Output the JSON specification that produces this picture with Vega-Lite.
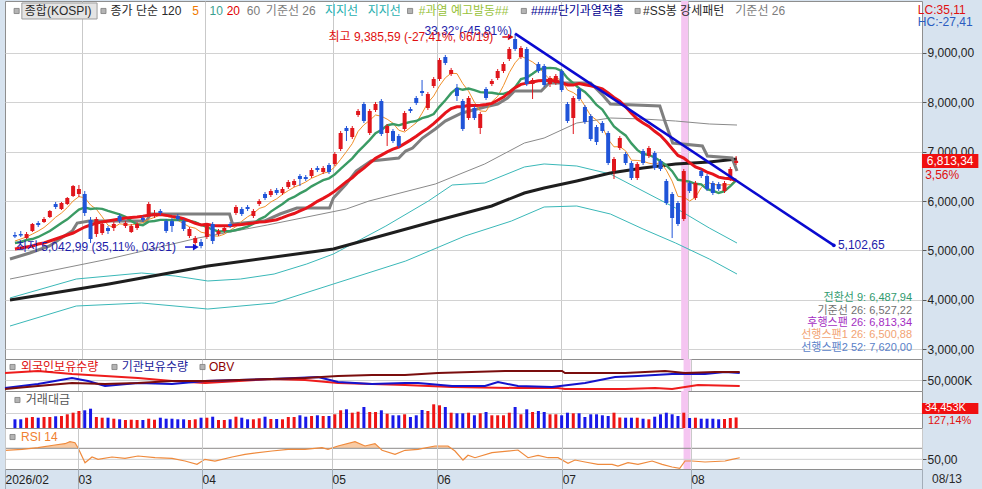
{
"$schema":"https://vega.github.io/schema/vega-lite/v6.json",
"background":"#d7e3ef",
"padding":{"left":0,"top":0,"right":5,"bottom":0},
"spacing":0,
"bounds":"flush",
"config":{"font":"Liberation Sans, Noto Sans CJK KR","view":{"stroke":"#8e8e8e","fill":"white"}},
"resolve":{"scale":{"x":"independent","y":"independent","color":"independent"}},
"datasets":{
"cd":[
{"i":0,"o":5312,"h":5373,"l":5251,"c":5282,"v":28450,"m5":5191,"m10":5150,"m20":5029},
{"i":1,"o":5332,"h":5393,"l":5272,"c":5302,"v":28450,"m5":5231,"m10":5171,"m20":5049},
{"i":2,"o":5251,"h":5373,"l":5231,"c":5332,"v":33680,"m5":5272,"m10":5211,"m20":5069},
{"i":3,"o":5393,"h":5555,"l":5373,"c":5535,"v":35970,"m5":5332,"m10":5231,"m20":5090},
{"i":4,"o":5555,"h":5595,"l":5474,"c":5514,"v":33680,"m5":5393,"m10":5272,"m20":5130},
{"i":5,"o":5575,"h":5676,"l":5555,"c":5636,"v":35970,"m5":5464,"m10":5332,"m20":5150},
{"i":6,"o":5676,"h":5818,"l":5656,"c":5798,"v":35970,"m5":5563,"m10":5393,"m20":5191},
{"i":7,"o":5939,"h":5980,"l":5838,"c":5879,"v":38260,"m5":5672,"m10":5474,"m20":5231},
{"i":8,"o":5838,"h":5980,"l":5818,"c":5960,"v":39240,"m5":5757,"m10":5555,"m20":5272},
{"i":9,"o":5939,"h":6081,"l":5919,"c":6061,"v":44800,"m5":5867,"m10":5630,"m20":5312},
{"i":10,"o":6101,"h":6324,"l":6081,"c":6303,"v":50030,"m5":6000,"m10":5731,"m20":5353},
{"i":11,"o":6142,"h":6324,"l":6081,"c":6243,"v":55590,"m5":6089,"m10":5826,"m20":5413},
{"i":12,"o":6142,"h":6202,"l":5697,"c":5757,"v":57880,"m5":6065,"m10":5869,"m20":5474},
{"i":13,"o":5616,"h":5676,"l":5150,"c":5231,"v":63110,"m5":5919,"m10":5838,"m20":5514},
{"i":14,"o":5332,"h":5676,"l":5272,"c":5636,"v":35970,"m5":5834,"m10":5850,"m20":5555},
{"i":15,"o":5353,"h":5575,"l":5312,"c":5535,"v":33680,"m5":5680,"m10":5840,"m20":5575},
{"i":16,"o":5454,"h":5494,"l":5332,"c":5393,"v":33680,"m5":5510,"m10":5800,"m20":5595},
{"i":17,"o":5454,"h":5575,"l":5393,"c":5535,"v":30410,"m5":5466,"m10":5765,"m20":5616},
{"i":18,"o":5697,"h":5737,"l":5555,"c":5595,"v":28450,"m5":5539,"m10":5729,"m20":5636},
{"i":19,"o":5494,"h":5595,"l":5454,"c":5555,"v":26160,"m5":5523,"m10":5678,"m20":5654},
{"i":20,"o":5373,"h":5535,"l":5353,"c":5494,"v":27140,"m5":5515,"m10":5597,"m20":5664},
{"i":21,"o":5454,"h":5575,"l":5413,"c":5535,"v":26160,"m5":5543,"m10":5527,"m20":5676},
{"i":22,"o":5656,"h":5697,"l":5575,"c":5616,"v":26160,"m5":5559,"m10":5512,"m20":5691},
{"i":23,"o":5737,"h":5980,"l":5717,"c":5939,"v":30410,"m5":5628,"m10":5583,"m20":5711},
{"i":24,"o":5697,"h":5818,"l":5656,"c":5757,"v":27140,"m5":5668,"m10":5595,"m20":5723},
{"i":25,"o":5798,"h":5838,"l":5717,"c":5757,"v":33680,"m5":5721,"m10":5618,"m20":5729},
{"i":26,"o":5595,"h":5636,"l":5353,"c":5393,"v":30410,"m5":5692,"m10":5618,"m20":5709},
{"i":27,"o":5595,"h":5656,"l":5373,"c":5494,"v":30410,"m5":5668,"m10":5614,"m20":5689},
{"i":28,"o":5697,"h":5737,"l":5595,"c":5636,"v":28450,"m5":5608,"m10":5618,"m20":5672},
{"i":29,"o":5595,"h":5636,"l":5393,"c":5434,"v":28450,"m5":5543,"m10":5605,"m20":5642},
{"i":30,"o":5292,"h":5474,"l":5251,"c":5434,"v":26160,"m5":5478,"m10":5599,"m20":5597},
{"i":31,"o":5150,"h":5292,"l":5090,"c":5251,"v":28450,"m5":5450,"m10":5571,"m20":5549},
{"i":32,"o":5171,"h":5231,"l":5042.99,"c":5090,"v":33680,"m5":5369,"m10":5518,"m20":5514},
{"i":33,"o":5272,"h":5555,"l":5231,"c":5514,"v":33680,"m5":5345,"m10":5476,"m20":5529},
{"i":34,"o":5535,"h":5575,"l":5130,"c":5191,"v":36950,"m5":5296,"m10":5419,"m20":5506},
{"i":35,"o":5332,"h":5434,"l":5292,"c":5393,"v":26160,"m5":5288,"m10":5383,"m20":5500},
{"i":36,"o":5393,"h":5494,"l":5353,"c":5454,"v":26160,"m5":5328,"m10":5389,"m20":5502},
{"i":37,"o":5535,"h":5575,"l":5454,"c":5494,"v":28450,"m5":5409,"m10":5389,"m20":5500},
{"i":38,"o":5757,"h":5919,"l":5717,"c":5879,"v":36950,"m5":5482,"m10":5413,"m20":5514},
{"i":39,"o":5838,"h":5879,"l":5697,"c":5737,"v":33680,"m5":5591,"m10":5444,"m20":5525},
{"i":40,"o":5879,"h":5919,"l":5798,"c":5838,"v":28450,"m5":5680,"m10":5484,"m20":5541},
{"i":41,"o":5697,"h":5838,"l":5656,"c":5798,"v":28450,"m5":5749,"m10":5539,"m20":5555},
{"i":42,"o":5939,"h":6040,"l":5899,"c":6000,"v":31720,"m5":5850,"m10":5630,"m20":5575},
{"i":43,"o":6142,"h":6182,"l":6020,"c":6061,"v":36950,"m5":5887,"m10":5684,"m20":5579},
{"i":44,"o":6121,"h":6243,"l":6081,"c":6202,"v":29430,"m5":5980,"m10":5786,"m20":5601},
{"i":45,"o":6223,"h":6263,"l":6121,"c":6162,"v":29430,"m5":6045,"m10":5862,"m20":5622},
{"i":46,"o":6162,"h":6283,"l":6121,"c":6243,"v":28450,"m5":6134,"m10":5941,"m20":5664},
{"i":47,"o":6283,"h":6425,"l":6243,"c":6384,"v":35970,"m5":6210,"m10":6030,"m20":5709},
{"i":48,"o":6324,"h":6445,"l":6283,"c":6405,"v":35970,"m5":6279,"m10":6083,"m20":5747},
{"i":49,"o":6506,"h":6546,"l":6303,"c":6445,"v":41530,"m5":6328,"m10":6154,"m20":5798},
{"i":50,"o":6485,"h":6526,"l":6405,"c":6445,"v":36950,"m5":6384,"m10":6214,"m20":5848},
{"i":51,"o":6506,"h":6668,"l":6465,"c":6627,"v":39240,"m5":6461,"m10":6297,"m20":5917},
{"i":52,"o":6668,"h":6708,"l":6587,"c":6627,"v":41530,"m5":6510,"m10":6360,"m20":5994},
{"i":53,"o":6587,"h":6708,"l":6546,"c":6668,"v":39240,"m5":6562,"m10":6421,"m20":6053},
{"i":54,"o":6728,"h":6769,"l":6546,"c":6587,"v":39240,"m5":6591,"m10":6459,"m20":6121},
{"i":55,"o":6748,"h":6991,"l":6708,"c":6951,"v":44800,"m5":6692,"m10":6538,"m20":6200},
{"i":56,"o":7052,"h":7416,"l":7011,"c":7376,"v":57880,"m5":6842,"m10":6651,"m20":6295},
{"i":57,"o":7477,"h":7517,"l":7214,"c":7416,"v":61150,"m5":6999,"m10":6755,"m20":6392},
{"i":58,"o":7295,"h":7517,"l":7254,"c":7477,"v":50030,"m5":7161,"m10":6862,"m20":6471},
{"i":59,"o":7740,"h":7861,"l":7700,"c":7821,"v":53300,"m5":7408,"m10":6999,"m20":6577},
{"i":60,"o":7962,"h":8003,"l":7578,"c":7618,"v":68670,"m5":7541,"m10":7117,"m20":6666},
{"i":61,"o":7376,"h":7861,"l":7335,"c":7821,"v":52320,"m5":7630,"m10":7236,"m20":6767},
{"i":62,"o":7841,"h":8003,"l":7800,"c":7962,"v":52320,"m5":7740,"m10":7370,"m20":6864},
{"i":63,"o":8023,"h":8063,"l":7315,"c":7355,"v":57880,"m5":7715,"m10":7438,"m20":6929},
{"i":64,"o":7376,"h":7558,"l":7113,"c":7517,"v":46760,"m5":7655,"m10":7531,"m20":6995},
{"i":65,"o":7416,"h":7456,"l":7173,"c":7214,"v":41530,"m5":7574,"m10":7558,"m20":7048},
{"i":66,"o":7315,"h":7355,"l":7072,"c":7113,"v":41530,"m5":7432,"m10":7531,"m20":7090},
{"i":67,"o":7457,"h":7821,"l":7416,"c":7780,"v":44800,"m5":7396,"m10":7568,"m20":7161},
{"i":68,"o":7861,"h":7902,"l":7780,"c":7821,"v":35970,"m5":7489,"m10":7602,"m20":7232},
{"i":69,"o":8084,"h":8124,"l":7942,"c":7982,"v":41530,"m5":7582,"m10":7618,"m20":7309},
{"i":70,"o":8225,"h":8448,"l":8124,"c":8185,"v":58860,"m5":7776,"m10":7675,"m20":7396},
{"i":71,"o":7881,"h":8205,"l":7841,"c":8165,"v":55590,"m5":7987,"m10":7709,"m20":7473},
{"i":72,"o":8326,"h":8508,"l":8286,"c":8468,"v":77500,"m5":8124,"m10":7760,"m20":7564},
{"i":73,"o":8468,"h":8893,"l":8428,"c":8852,"v":74230,"m5":8330,"m10":7910,"m20":7673},
{"i":74,"o":8913,"h":8954,"l":8751,"c":8792,"v":68670,"m5":8492,"m10":8037,"m20":7784},
{"i":75,"o":8569,"h":8691,"l":8529,"c":8650,"v":50030,"m5":8585,"m10":8181,"m20":7869},
{"i":76,"o":8286,"h":8367,"l":8023,"c":8124,"v":48070,"m5":8577,"m10":8282,"m20":7906},
{"i":77,"o":8023,"h":8063,"l":7416,"c":7457,"v":48070,"m5":8375,"m10":8250,"m20":7908},
{"i":78,"o":7679,"h":8124,"l":7639,"c":8084,"v":50030,"m5":8221,"m10":8276,"m20":7938},
{"i":79,"o":7881,"h":7922,"l":7639,"c":7679,"v":41530,"m5":7999,"m10":8245,"m20":7932},
{"i":80,"o":7477,"h":7800,"l":7355,"c":7760,"v":48070,"m5":7821,"m10":8203,"m20":7938},
{"i":81,"o":8266,"h":8306,"l":8043,"c":8084,"v":52320,"m5":7813,"m10":8195,"m20":7952},
{"i":82,"o":8367,"h":8468,"l":8326,"c":8428,"v":41530,"m5":8007,"m10":8191,"m20":7974},
{"i":83,"o":8488,"h":8670,"l":8448,"c":8630,"v":41530,"m5":8116,"m10":8169,"m20":8039},
{"i":84,"o":8630,"h":8812,"l":8589,"c":8771,"v":41530,"m5":8335,"m10":8167,"m20":8102},
{"i":85,"o":8873,"h":9115,"l":8832,"c":9075,"v":50030,"m5":8598,"m10":8209,"m20":8195},
{"i":86,"o":9277,"h":9385.59,"l":9034,"c":9075,"v":68670,"m5":8796,"m10":8304,"m20":8292},
{"i":87,"o":8913,"h":9136,"l":8873,"c":9095,"v":44800,"m5":8929,"m10":8468,"m20":8359},
{"i":88,"o":9075,"h":9115,"l":8326,"c":8367,"v":61150,"m5":8877,"m10":8496,"m20":8385},
{"i":89,"o":8367,"h":8488,"l":8063,"c":8448,"v":52320,"m5":8812,"m10":8573,"m20":8409},
{"i":90,"o":8771,"h":8812,"l":8589,"c":8630,"v":55590,"m5":8723,"m10":8660,"m20":8432},
{"i":91,"o":8731,"h":8771,"l":8306,"c":8347,"v":52320,"m5":8577,"m10":8687,"m20":8440},
{"i":92,"o":8367,"h":8529,"l":8306,"c":8488,"v":44800,"m5":8456,"m10":8693,"m20":8442},
{"i":93,"o":8387,"h":8569,"l":8347,"c":8529,"v":44800,"m5":8488,"m10":8683,"m20":8426},
{"i":94,"o":8630,"h":8670,"l":8205,"c":8245,"v":41530,"m5":8448,"m10":8630,"m20":8397},
{"i":95,"o":7962,"h":8003,"l":7578,"c":7618,"v":50030,"m5":8245,"m10":8484,"m20":8347},
{"i":96,"o":7679,"h":8124,"l":7355,"c":8084,"v":48070,"m5":8193,"m10":8385,"m20":8345},
{"i":97,"o":8266,"h":8306,"l":8023,"c":8063,"v":48070,"m5":8108,"m10":8282,"m20":8375},
{"i":98,"o":7902,"h":7942,"l":7558,"c":7598,"v":35970,"m5":7922,"m10":8205,"m20":8351},
{"i":99,"o":7720,"h":7760,"l":7214,"c":7254,"v":44800,"m5":7724,"m10":8086,"m20":8329},
{"i":100,"o":7497,"h":7537,"l":7133,"c":7194,"v":44800,"m5":7639,"m10":7942,"m20":8300},
{"i":101,"o":7578,"h":7618,"l":7376,"c":7416,"v":41530,"m5":7505,"m10":7849,"m20":8268},
{"i":102,"o":7376,"h":7416,"l":6728,"c":6769,"v":39240,"m5":7246,"m10":7677,"m20":8185},
{"i":103,"o":6607,"h":6890,"l":6445,"c":6850,"v":50030,"m5":7096,"m10":7509,"m20":8096},
{"i":104,"o":7072,"h":7315,"l":7032,"c":7274,"v":34340,"m5":7100,"m10":7412,"m20":8021},
{"i":105,"o":6951,"h":6991,"l":6728,"c":6769,"v":33680,"m5":7015,"m10":7327,"m20":7906},
{"i":106,"o":6769,"h":6809,"l":6425,"c":6465,"v":33680,"m5":6825,"m10":7165,"m20":7774},
{"i":107,"o":6465,"h":6789,"l":6425,"c":6748,"v":33680,"m5":6821,"m10":7034,"m20":7657},
{"i":108,"o":7011,"h":7052,"l":6728,"c":6769,"v":30410,"m5":6805,"m10":6951,"m20":7578},
{"i":109,"o":6910,"h":7113,"l":6870,"c":7072,"v":28450,"m5":6765,"m10":6933,"m20":7509},
{"i":110,"o":6971,"h":7011,"l":6627,"c":6668,"v":36950,"m5":6744,"m10":6880,"m20":7410},
{"i":111,"o":6809,"h":6850,"l":6607,"c":6647,"v":44800,"m5":6781,"m10":6803,"m20":7325},
{"i":112,"o":6405,"h":6445,"l":5919,"c":5960,"v":50030,"m5":6623,"m10":6722,"m20":7200},
{"i":113,"o":6142,"h":6182,"l":5251,"c":5656,"v":44800,"m5":6401,"m10":6603,"m20":7056},
{"i":114,"o":5960,"h":6000,"l":5494,"c":5535,"v":39240,"m5":6093,"m10":6429,"m20":6921},
{"i":115,"o":5636,"h":6647,"l":5595,"c":6607,"v":50030,"m5":6081,"m10":6413,"m20":6870},
{"i":116,"o":6364,"h":6405,"l":6162,"c":6202,"v":32700,"m5":6000,"m10":6390,"m20":6777},
{"i":117,"o":6061,"h":6405,"l":6020,"c":6364,"v":33680,"m5":6073,"m10":6348,"m20":6690},
{"i":118,"o":6607,"h":6647,"l":6465,"c":6506,"v":30410,"m5":6271,"m10":6336,"m20":6643},
{"i":119,"o":6506,"h":6546,"l":6202,"c":6243,"v":30410,"m5":6384,"m10":6239,"m20":6585},
{"i":120,"o":6364,"h":6405,"l":6121,"c":6162,"v":30410,"m5":6336,"m10":6208,"m20":6544},
{"i":121,"o":6344,"h":6384,"l":6202,"c":6243,"v":28450,"m5":6324,"m10":6162,"m20":6482},
{"i":122,"o":6202,"h":6405,"l":6162,"c":6364,"v":29430,"m5":6324,"m10":6198,"m20":6459},
{"i":123,"o":6445,"h":6688,"l":6405,"c":6647,"v":32700,"m5":6332,"m10":6301,"m20":6451},
{"i":124,"o":6769,"h":6910,"l":6728,"c":6813.34,"v":34453,"m5":6445,"m10":6415,"m20":6421}
],
"ml":[
{"s":"m120","i":-0.85,"p":3997},{"s":"m120","i":16.16,"p":4321},{"s":"m120","i":33.16,"p":4685},{"s":"m120","i":54.76,"p":5029},{"s":"m120","i":72.28,"p":5595},{"s":"m120","i":81.97,"p":5899},{"s":"m120","i":87.59,"p":6162},{"s":"m120","i":90.99,"p":6263},{"s":"m120","i":96.6,"p":6405},{"s":"m120","i":102.38,"p":6566},{"s":"m120","i":107.99,"p":6668},{"s":"m120","i":113.6,"p":6749},{"s":"m120","i":119.39,"p":6789},{"s":"m120","i":124.15,"p":6850},
{"s":"m60","i":-0.85,"p":4422},{"s":"m60","i":16.16,"p":4827},{"s":"m60","i":31.46,"p":5251},{"s":"m60","i":43.37,"p":5514},{"s":"m60","i":56.97,"p":5838},{"s":"m60","i":60.88,"p":6000},{"s":"m60","i":72.28,"p":6344},{"s":"m60","i":80.78,"p":6749},{"s":"m60","i":87.59,"p":7173},{"s":"m60","i":90.99,"p":7274},{"s":"m60","i":96.6,"p":7578},{"s":"m60","i":102.38,"p":7679},{"s":"m60","i":107.99,"p":7659},{"s":"m60","i":113.6,"p":7618},{"s":"m60","i":119.39,"p":7558},{"s":"m60","i":124.15,"p":7537},
{"s":"kijun","i":-0.85,"p":4827},{"s":"kijun","i":2.55,"p":4948},{"s":"kijun","i":5.95,"p":5090},{"s":"kijun","i":8.5,"p":5292},{"s":"kijun","i":9.86,"p":5393},{"s":"kijun","i":10.71,"p":5555},{"s":"kijun","i":12.76,"p":5595},{"s":"kijun","i":22.62,"p":5595},{"s":"kijun","i":23.3,"p":5737},{"s":"kijun","i":36.9,"p":5737},{"s":"kijun","i":37.41,"p":5535},{"s":"kijun","i":42.86,"p":5595},{"s":"kijun","i":45.58,"p":5737},{"s":"kijun","i":48.47,"p":5858},{"s":"kijun","i":54.08,"p":5858},{"s":"kijun","i":54.76,"p":6061},{"s":"kijun","i":56.97,"p":6344},{"s":"kijun","i":58.67,"p":6607},{"s":"kijun","i":61.22,"p":6809},{"s":"kijun","i":65.99,"p":6870},{"s":"kijun","i":67.18,"p":7011},{"s":"kijun","i":68.37,"p":7072},{"s":"kijun","i":70.07,"p":7274},{"s":"kijun","i":72.28,"p":7457},{"s":"kijun","i":73.98,"p":7618},{"s":"kijun","i":76.87,"p":7780},{"s":"kijun","i":80.78,"p":7902},{"s":"kijun","i":82.99,"p":7962},{"s":"kijun","i":84.69,"p":8084},{"s":"kijun","i":85.88,"p":8225},{"s":"kijun","i":90.48,"p":8225},{"s":"kijun","i":91.84,"p":8387},{"s":"kijun","i":98.98,"p":8387},{"s":"kijun","i":101.19,"p":8124},{"s":"kijun","i":102.38,"p":7962},{"s":"kijun","i":110.88,"p":7922},{"s":"kijun","i":111.73,"p":7618},{"s":"kijun","i":113.1,"p":7173},{"s":"kijun","i":118.2,"p":7113},{"s":"kijun","i":119.05,"p":6910},{"s":"kijun","i":123.3,"p":6870},{"s":"kijun","i":124.15,"p":6607},
{"s":"t1","i":-0.85,"p":4038},{"s":"t1","i":10.54,"p":4422},{"s":"t1","i":21.77,"p":4544},{"s":"t1","i":27.55,"p":4483},{"s":"t1","i":33.16,"p":4382},{"s":"t1","i":38.78,"p":4422},{"s":"t1","i":44.56,"p":4523},{"s":"t1","i":50.17,"p":4726},{"s":"t1","i":54.76,"p":4928},{"s":"t1","i":63.78,"p":5494},{"s":"t1","i":71.09,"p":6000},{"s":"t1","i":75.17,"p":6324},{"s":"t1","i":80.78,"p":6364},{"s":"t1","i":87.59,"p":6688},{"s":"t1","i":90.99,"p":6749},{"s":"t1","i":96.6,"p":6708},{"s":"t1","i":102.38,"p":6546},{"s":"t1","i":107.99,"p":6202},{"s":"t1","i":113.6,"p":5858},{"s":"t1","i":119.39,"p":5454},{"s":"t1","i":124.15,"p":5150},
{"s":"t2","i":-0.85,"p":3471},{"s":"t2","i":10.54,"p":3876},{"s":"t2","i":21.77,"p":3937},{"s":"t2","i":33.16,"p":3815},{"s":"t2","i":44.56,"p":3937},{"s":"t2","i":54.76,"p":4321},{"s":"t2","i":67.18,"p":4786},{"s":"t2","i":77.38,"p":5292},{"s":"t2","i":85.37,"p":5595},{"s":"t2","i":90.99,"p":5879},{"s":"t2","i":96.6,"p":5899},{"s":"t2","i":102.38,"p":5737},{"s":"t2","i":107.99,"p":5434},{"s":"t2","i":113.6,"p":5150},{"s":"t2","i":119.39,"p":4827},{"s":"t2","i":124.15,"p":4523}
],
"hl":[{"i":114.55,"i2":115.75}],
"trend":[{"i":86,"p":9385.59},{"i":140.8,"p":5102.65}],
"tend":[{"i":140.8,"p":5102.65}],
"arr":[{"i":83.8,"i2":85.25,"p":9318,"k":"r"},{"i":29.25,"i2":31.1,"p":5069,"k":"b"}],
"hbox":[{"i":1.19,"i2":14.12,"p":10006,"p2":9682}],
"hsq":[{"i":0.29,"p":9844},{"i":15.22,"p":9844},{"i":67.94,"p":9844},{"i":87.5,"p":9844},{"i":107.06,"p":9844}],
"hdr":[
{"t":"종합(KOSPI)","i":1.7,"p":9844,"k":"blk"},
{"t":"종가 단순 120","i":16.44,"p":9844,"k":"blk"},
{"t":"5","i":30.5,"p":9844,"k":"or"},
{"t":"10","i":33.45,"p":9844,"k":"tl"},
{"t":"20","i":36.4,"p":9844,"k":"rd"},
{"t":"60","i":39.85,"p":9844,"k":"gy"},
{"t":"기준선 26","i":43.14,"p":9844,"k":"gy"},
{"t":"지지선","i":53.29,"p":9844,"k":"tq"},
{"t":"지지선","i":60.66,"p":9844,"k":"tq"},
{"t":"#과열  예고발동##","i":69.44,"p":9844,"k":"yg"},
{"t":"####단기과열적출","i":88.72,"p":9844,"k":"nv"},
{"t":"#SS봉 강세패턴","i":108,"p":9844,"k":"blk"},
{"t":"기준선 26","i":123.86,"p":9844,"k":"gy"}
],
"ann":[
{"t":"33,32°(-45,81%)","i":70.41,"p":9439,"k":"nv"},
{"t":"최고 9,385,59 (-27,41%, 06/19)","i":53.91,"p":9318,"k":"rd"},
{"t":"최저 5,042,99 (35,11%, 03/31)","i":0.17,"p":5069,"k":"nv"},
{"t":"5,102,65","i":141.5,"p":5102.65,"k":"nv"},
{"t":"3,56%","i":156.5,"p":6526,"k":"rd"},
{"t":"LC:35,11","i":155.25,"p":9864,"k":"rd"},
{"t":"HC:-27,41","i":155.25,"p":9621,"k":"bl"}
],
"ichi":[
{"t":"전환선 9: 6,487,94","i":154.25,"p":4038,"k":"a"},
{"t":"기준선 26: 6,527,22","i":154.25,"p":3775,"k":"b"},
{"t":"후행스팬 26: 6,813,34","i":154.25,"p":3532,"k":"c"},
{"t":"선행스팬1 26: 6,500,88","i":154.25,"p":3289,"k":"d"},
{"t":"선행스팬2 52: 7,620,00","i":154.25,"p":3026,"k":"e"}
],
"tag":[{"i":155.95,"i2":165.65,"p":6951,"p2":6668}],
"tagt":[{"t":"6,813,34","i":160.8,"p":6813.34}],
"mid":[
{"s":"f","i":-0.85,"v":57000},{"s":"f","i":4.76,"v":59000},{"s":"f","i":10.54,"v":56000},{"s":"f","i":16.16,"v":54000},{"s":"f","i":21.77,"v":52000},{"s":"f","i":27.55,"v":49000},{"s":"f","i":33.16,"v":47000},{"s":"f","i":44.56,"v":51000},{"s":"f","i":50.17,"v":50000},{"s":"f","i":55.78,"v":47000},{"s":"f","i":61.56,"v":46000},{"s":"f","i":67.18,"v":45000},{"s":"f","i":75.17,"v":43000},{"s":"f","i":86.39,"v":42000},{"s":"f","i":93.2,"v":42000},{"s":"f","i":94.39,"v":41000},{"s":"f","i":104.6,"v":41000},{"s":"f","i":109.7,"v":42000},{"s":"f","i":112.6,"v":41000},{"s":"f","i":117,"v":45000},{"s":"f","i":124.1,"v":44000},
{"s":"in","i":-0.85,"v":42000},{"s":"in","i":4.76,"v":46000},{"s":"in","i":10.54,"v":52000},{"s":"in","i":13.27,"v":49000},{"s":"in","i":16.16,"v":44000},{"s":"in","i":21.77,"v":47000},{"s":"in","i":27.55,"v":46000},{"s":"in","i":33.16,"v":49000},{"s":"in","i":44.56,"v":51000},{"s":"in","i":52.38,"v":53000},{"s":"in","i":55.78,"v":48000},{"s":"in","i":61.56,"v":46000},{"s":"in","i":67.18,"v":47000},{"s":"in","i":69.39,"v":47000},{"s":"in","i":75.17,"v":44000},{"s":"in","i":80.78,"v":44000},{"s":"in","i":82.99,"v":48000},{"s":"in","i":86.39,"v":44000},{"s":"in","i":92.18,"v":43000},{"s":"in","i":97.79,"v":47000},{"s":"in","i":102.9,"v":53000},{"s":"in","i":106.8,"v":54000},{"s":"in","i":112.6,"v":56000},{"s":"in","i":118.2,"v":56000},{"s":"in","i":121.6,"v":58000},{"s":"in","i":124.1,"v":57000},
{"s":"obv","i":-0.85,"v":41000},{"s":"obv","i":4.76,"v":44000},{"s":"obv","i":10.54,"v":47000},{"s":"obv","i":16.16,"v":46000},{"s":"obv","i":21.77,"v":47000},{"s":"obv","i":27.55,"v":49000},{"s":"obv","i":33.16,"v":49000},{"s":"obv","i":44.56,"v":51000},{"s":"obv","i":50.17,"v":52000},{"s":"obv","i":55.78,"v":54000},{"s":"obv","i":61.56,"v":55000},{"s":"obv","i":67.18,"v":55000},{"s":"obv","i":72.79,"v":57000},{"s":"obv","i":84.18,"v":59000},{"s":"obv","i":93.88,"v":59000},{"s":"obv","i":94.39,"v":57000},{"s":"obv","i":104.6,"v":57000},{"s":"obv","i":111.4,"v":59000},{"s":"obv","i":114.8,"v":57000},{"s":"obv","i":119.9,"v":58000},{"s":"obv","i":124.1,"v":58000}
],
"msq":[{"i":0.43,"v":63000},{"i":17.77,"v":63000},{"i":32.74,"v":63000}],
"mleg":[{"t":"외국인보유수량","i":1.87,"v":63000,"k":"f"},{"t":"기관보유수량","i":19.0,"v":63000,"k":"in"},{"t":"OBV","i":33.84,"v":63000,"k":"obv"}],
"vsq":[{"i":0.43,"v":91560}],
"vleg":[{"t":"거래대금","i":1.87,"v":91560}],
"vtag":[{"i":155.95,"i2":165.65,"v":81750,"v2":45780}],
"vtxt":[{"t":"34,453K","i":156.46,"v":64500,"k":"w"},{"t":"127,14%","i":156.97,"v":24500,"k":"r"}],
"rsi":[
{"i":-0.85,"r":66.4},{"i":2.04,"r":68.2},{"i":4.76,"r":71.1},{"i":7.65,"r":76},{"i":9.35,"r":78.4},{"i":10.2,"r":82},{"i":11.05,"r":80.2},{"i":11.56,"r":71.1},{"i":12.76,"r":43.8},{"i":13.95,"r":54.2},{"i":14.97,"r":50},{"i":17.35,"r":54.2},{"i":19.56,"r":51.8},{"i":21.77,"r":56},{"i":24.66,"r":52.9},{"i":27.55,"r":51.8},{"i":29.76,"r":46.9},{"i":31.8,"r":40.9},{"i":33.16,"r":50},{"i":34.86,"r":46.9},{"i":37.76,"r":54.2},{"i":39.97,"r":59.1},{"i":44.56,"r":65.1},{"i":47.28,"r":68.2},{"i":50.17,"r":68.2},{"i":53.06,"r":71.1},{"i":54.08,"r":68.2},{"i":55.78,"r":74.2},{"i":58.67,"r":82},{"i":60.37,"r":74.2},{"i":62.07,"r":78.4},{"i":63.27,"r":66.4},{"i":65.48,"r":59.1},{"i":67.18,"r":66.4},{"i":69.39,"r":68.2},{"i":72.28,"r":74.2},{"i":74.49,"r":74.2},{"i":75.68,"r":65.1},{"i":77.04,"r":48.7},{"i":77.89,"r":57.3},{"i":79.08,"r":52.9},{"i":81.97,"r":62},{"i":86.39,"r":66.9},{"i":88.1,"r":52.9},{"i":89.8,"r":57.3},{"i":91.5,"r":52.9},{"i":93.2,"r":52.9},{"i":94.9,"r":42.7},{"i":96.09,"r":48.7},{"i":97.79,"r":45.1},{"i":99.99,"r":40.9},{"i":102.4,"r":40.9},{"i":103.4,"r":37.8},{"i":105.1,"r":43.8},{"i":106.8,"r":40.9},{"i":109.2,"r":46.9},{"i":110.9,"r":40.9},{"i":112.6,"r":36},{"i":113.9,"r":33.6},{"i":114.8,"r":46.9},{"i":116,"r":46.9},{"i":118.2,"r":45.1},{"i":121.6,"r":46.9},{"i":122.8,"r":50},{"i":124.1,"r":52.9}
],
"rsq":[{"i":0.43,"r":90.5}],
"rleg":[{"t":"RSI 14","i":1.87,"r":90.5,"k":"o"},{"t":"08/13","i":156.8,"r":14.2,"k":"d"}]
},
"vconcat":[
{
"width":917,"height":358,
"resolve":{"scale":{"color":"independent"}},
"layer":[
{"data":{"name":"hl"},"mark":{"type":"rect","color":"#f5c5f1"},
 "encoding":{"x":{"field":"i","type":"quantitative","title":null,"scale":{"domain":[-0.85,155.1],"nice":false,"zero":false},"axis":{"orient":"bottom","values":[11.56,32.65,54.76,72.6,93.9,115.8],"grid":true,"gridColor":"#c9c9c9","labels":false,"ticks":false,"domain":false}},
  "x2":{"field":"i2"},"y":{"datum":10046},"y2":{"datum":2804}}},
{"data":{"name":"ml"},"transform":[{"filter":{"field":"s","oneOf":["m60","t1","t2"]}}],"mark":{"type":"line","strokeWidth":1},
 "encoding":{"x":{"field":"i","type":"quantitative","title":null,"scale":{"domain":[-0.85,155.1],"nice":false,"zero":false}},
  "y":{"field":"p","type":"quantitative","title":null,"scale":{"domain":[2804,10046],"nice":false,"zero":false},"axis":{"orient":"right","values":[3000,3500,4000,4500,5000,5500,6000,6500,7000,7500,8000,8500,9000,9500],"grid":true,"gridColor":"#d2d2d2","tickSize":4,"tickColor":"#555555","labelColor":"#222222","labelFontSize":12,"labelPadding":1,"domain":false,"labelExpr":"replace(format(datum.value, ',.2f'), '.', ',')"}},
  "color":{"field":"s","type":"nominal","legend":null,"scale":{"domain":["m60","t1","t2"],"range":["#8a8a8a","#3ab8b8","#3ab8b8"]}}}},
{"data":{"name":"ml"},"transform":[{"filter":{"field":"s","oneOf":["m120","kijun"]}}],"mark":{"type":"line","strokeWidth":3},
 "encoding":{"x":{"field":"i","type":"quantitative","title":null,"scale":{"domain":[-0.85,155.1],"nice":false,"zero":false}},
  "y":{"field":"p","type":"quantitative","title":null,"scale":{"domain":[2804,10046],"nice":false,"zero":false}},
  "color":{"field":"s","type":"nominal","legend":null,"scale":{"domain":["m120","kijun"],"range":["#1e1e1e","#7f7f7f"]}}}},
{"data":{"name":"cd"},"mark":{"type":"line","color":"#f0902a","strokeWidth":1},
 "encoding":{"x":{"field":"i","type":"quantitative","title":null,"scale":{"domain":[-0.85,155.1],"nice":false,"zero":false}},"y":{"field":"m5","type":"quantitative","title":null,"scale":{"domain":[2804,10046],"nice":false,"zero":false}}}},
{"data":{"name":"cd"},"mark":{"type":"line","color":"#3b9b64","strokeWidth":2.4},
 "encoding":{"x":{"field":"i","type":"quantitative","title":null,"scale":{"domain":[-0.85,155.1],"nice":false,"zero":false}},"y":{"field":"m10","type":"quantitative","title":null,"scale":{"domain":[2804,10046],"nice":false,"zero":false}}}},
{"data":{"name":"cd"},"mark":{"type":"line","color":"#e6141b","strokeWidth":3},
 "encoding":{"x":{"field":"i","type":"quantitative","title":null,"scale":{"domain":[-0.85,155.1],"nice":false,"zero":false}},"y":{"field":"m20","type":"quantitative","title":null,"scale":{"domain":[2804,10046],"nice":false,"zero":false}}}},
{"data":{"name":"cd"},"mark":{"type":"rule","strokeWidth":1},
 "encoding":{"x":{"field":"i","type":"quantitative","title":null,"scale":{"domain":[-0.85,155.1],"nice":false,"zero":false}},"y":{"field":"l","type":"quantitative","title":null,"scale":{"domain":[2804,10046],"nice":false,"zero":false}},"y2":{"field":"h"},
  "color":{"condition":{"test":"datum.c >= datum.o","value":"#e0161c"},"value":"#2054d8"}}},
{"data":{"name":"cd"},"mark":{"type":"bar","size":4,"orient":"vertical"},
 "encoding":{"x":{"field":"i","type":"quantitative","title":null,"scale":{"domain":[-0.85,155.1],"nice":false,"zero":false}},"y":{"field":"o","type":"quantitative","title":null,"scale":{"domain":[2804,10046],"nice":false,"zero":false}},"y2":{"field":"c"},
  "color":{"condition":{"test":"datum.c >= datum.o","value":"#e0161c"},"value":"#2054d8"}}},
{"data":{"name":"trend"},"mark":{"type":"line","color":"#0a0ad0","strokeWidth":2.5},
 "encoding":{"x":{"field":"i","type":"quantitative","title":null,"scale":{"domain":[-0.85,155.1],"nice":false,"zero":false}},"y":{"field":"p","type":"quantitative","title":null,"scale":{"domain":[2804,10046],"nice":false,"zero":false}}}},
{"data":{"name":"tend"},"mark":{"type":"point","filled":true,"color":"#0a0ad0","size":14,"opacity":1},
 "encoding":{"x":{"field":"i","type":"quantitative","title":null,"scale":{"domain":[-0.85,155.1],"nice":false,"zero":false}},"y":{"field":"p","type":"quantitative","title":null,"scale":{"domain":[2804,10046],"nice":false,"zero":false}}}},
{"data":{"name":"arr"},"mark":{"type":"rule","strokeWidth":1.5},
 "encoding":{"x":{"field":"i","type":"quantitative","title":null,"scale":{"domain":[-0.85,155.1],"nice":false,"zero":false}},"x2":{"field":"i2"},"y":{"field":"p","type":"quantitative","title":null,"scale":{"domain":[2804,10046],"nice":false,"zero":false}},
  "color":{"field":"k","type":"nominal","legend":null,"scale":{"domain":["r","b"],"range":["#e01010","#1010d0"]}}}},
{"data":{"name":"arr"},"mark":{"type":"point","shape":"triangle-right","filled":true,"size":45,"opacity":1},
 "encoding":{"x":{"field":"i2","type":"quantitative","title":null,"scale":{"domain":[-0.85,155.1],"nice":false,"zero":false}},"y":{"field":"p","type":"quantitative","title":null,"scale":{"domain":[2804,10046],"nice":false,"zero":false}},
  "color":{"field":"k","type":"nominal","legend":null,"scale":{"domain":["r","b"],"range":["#e01010","#1010d0"]}}}},
{"data":{"name":"hbox"},"mark":{"type":"rect","fill":"#e4e4e4","stroke":"#9c9c9c","strokeWidth":1},
 "encoding":{"x":{"field":"i","type":"quantitative","title":null,"scale":{"domain":[-0.85,155.1],"nice":false,"zero":false}},"x2":{"field":"i2"},"y":{"field":"p","type":"quantitative","title":null,"scale":{"domain":[2804,10046],"nice":false,"zero":false}},"y2":{"field":"p2"}}},
{"data":{"name":"hsq"},"mark":{"type":"point","shape":"square","filled":true,"size":26,"color":"#b4b4b4","stroke":"#7c7c7c","strokeWidth":0.8,"opacity":1},
 "encoding":{"x":{"field":"i","type":"quantitative","title":null,"scale":{"domain":[-0.85,155.1],"nice":false,"zero":false}},"y":{"field":"p","type":"quantitative","title":null,"scale":{"domain":[2804,10046],"nice":false,"zero":false}}}},
{"data":{"name":"hdr"},"mark":{"type":"text","align":"left","baseline":"middle","fontSize":12},
 "encoding":{"x":{"field":"i","type":"quantitative","title":null,"scale":{"domain":[-0.85,155.1],"nice":false,"zero":false}},"y":{"field":"p","type":"quantitative","title":null,"scale":{"domain":[2804,10046],"nice":false,"zero":false}},"text":{"field":"t"},
  "color":{"field":"k","type":"nominal","legend":null,"scale":{"domain":["blk","or","tl","rd","gy","tq","yg","nv"],"range":["#2a2a2a","#f07800","#3a9f8f","#e00000","#7c7c7c","#1fb0b0","#98c23a","#000090"]}}}},
{"data":{"name":"ann"},"mark":{"type":"text","align":"left","baseline":"middle","fontSize":12},
 "encoding":{"x":{"field":"i","type":"quantitative","title":null,"scale":{"domain":[-0.85,155.1],"nice":false,"zero":false}},"y":{"field":"p","type":"quantitative","title":null,"scale":{"domain":[2804,10046],"nice":false,"zero":false}},"text":{"field":"t"},
  "color":{"field":"k","type":"nominal","legend":null,"scale":{"domain":["nv","rd","bl"],"range":["#1c1caa","#e01010","#2a5cc0"]}}}},
{"data":{"name":"ichi"},"mark":{"type":"text","align":"right","baseline":"middle","fontSize":11},
 "encoding":{"x":{"field":"i","type":"quantitative","title":null,"scale":{"domain":[-0.85,155.1],"nice":false,"zero":false}},"y":{"field":"p","type":"quantitative","title":null,"scale":{"domain":[2804,10046],"nice":false,"zero":false}},"text":{"field":"t"},
  "color":{"field":"k","type":"nominal","legend":null,"scale":{"domain":["a","b","c","d","e"],"range":["#2f9a6e","#707070","#a42ec2","#f2a373","#5a7fc8"]}}}},
{"data":{"name":"tag"},"mark":{"type":"rect","color":"#f01010"},
 "encoding":{"x":{"field":"i","type":"quantitative","title":null,"scale":{"domain":[-0.85,155.1],"nice":false,"zero":false}},"x2":{"field":"i2"},"y":{"field":"p","type":"quantitative","title":null,"scale":{"domain":[2804,10046],"nice":false,"zero":false}},"y2":{"field":"p2"}}},
{"data":{"name":"tagt"},"mark":{"type":"text","align":"center","baseline":"middle","fontSize":12,"color":"white"},
 "encoding":{"x":{"field":"i","type":"quantitative","title":null,"scale":{"domain":[-0.85,155.1],"nice":false,"zero":false}},"y":{"field":"p","type":"quantitative","title":null,"scale":{"domain":[2804,10046],"nice":false,"zero":false}},"text":{"field":"t"}}}
]
},
{
"width":917,"height":32,
"resolve":{"scale":{"color":"independent"}},
"layer":[
{"data":{"name":"hl"},"mark":{"type":"rect","color":"#f5c5f1"},
 "encoding":{"x":{"field":"i","type":"quantitative","title":null,"scale":{"domain":[-0.85,155.1],"nice":false,"zero":false},"axis":{"orient":"bottom","values":[11.56,32.65,54.76,72.6,93.9,115.8],"grid":true,"gridColor":"#c9c9c9","labels":false,"ticks":false,"domain":false}},
  "x2":{"field":"i2"},"y":{"datum":71000},"y2":{"datum":39000}}},
{"data":{"name":"mid"},"mark":{"type":"line","strokeWidth":2},
 "encoding":{"x":{"field":"i","type":"quantitative","title":null,"scale":{"domain":[-0.85,155.1],"nice":false,"zero":false}},
  "y":{"field":"v","type":"quantitative","title":null,"scale":{"domain":[39000,71000],"nice":false,"zero":false},"axis":{"orient":"right","values":[50000],"grid":true,"gridColor":"#d2d2d2","tickSize":4,"tickColor":"#555555","labelColor":"#222222","labelFontSize":12,"labelPadding":1,"domain":false,"labelExpr":"format(datum.value, ',') + 'K'"}},
  "color":{"field":"s","type":"nominal","legend":null,"scale":{"domain":["f","in","obv"],"range":["#ee1c1c","#1414cc","#7a0d0d"]}}}},
{"data":{"name":"msq"},"mark":{"type":"point","shape":"square","filled":true,"size":26,"color":"#b4b4b4","stroke":"#7c7c7c","strokeWidth":0.8,"opacity":1},
 "encoding":{"x":{"field":"i","type":"quantitative","title":null,"scale":{"domain":[-0.85,155.1],"nice":false,"zero":false}},"y":{"field":"v","type":"quantitative","title":null,"scale":{"domain":[39000,71000],"nice":false,"zero":false}}}},
{"data":{"name":"mleg"},"mark":{"type":"text","align":"left","baseline":"middle","fontSize":12},
 "encoding":{"x":{"field":"i","type":"quantitative","title":null,"scale":{"domain":[-0.85,155.1],"nice":false,"zero":false}},"y":{"field":"v","type":"quantitative","title":null,"scale":{"domain":[39000,71000],"nice":false,"zero":false}},"text":{"field":"t"},
  "color":{"field":"k","type":"nominal","legend":null,"scale":{"domain":["f","in","obv"],"range":["#e01010","#1a1a9a","#8b0000"]}}}}
]
},
{
"width":917,"height":37,
"resolve":{"scale":{"color":"independent"}},
"layer":[
{"data":{"name":"hl"},"mark":{"type":"rect","color":"#f5c5f1"},
 "encoding":{"x":{"field":"i","type":"quantitative","title":null,"scale":{"domain":[-0.85,155.1],"nice":false,"zero":false},"axis":{"orient":"bottom","values":[11.56,32.65,54.76,72.6,93.9,115.8],"grid":true,"gridColor":"#c9c9c9","labels":false,"ticks":false,"domain":false}},
  "x2":{"field":"i2"},"y":{"datum":121000},"y2":{"datum":0}}},
{"data":{"name":"cd"},"mark":{"type":"bar","size":3,"orient":"vertical"},
 "encoding":{"x":{"field":"i","type":"quantitative","title":null,"scale":{"domain":[-0.85,155.1],"nice":false,"zero":false}},
  "y":{"field":"v","type":"quantitative","title":null,"scale":{"domain":[0,121000],"nice":false,"zero":false},"axis":{"orient":"right","values":[50000],"grid":true,"gridColor":"#d2d2d2","labels":false,"ticks":false,"domain":false}},
  "y2":{"datum":0},
  "color":{"condition":{"test":"datum.c >= datum.o","value":"#ee1414"},"value":"#1818e8"}}},
{"data":{"name":"vsq"},"mark":{"type":"point","shape":"square","filled":true,"size":26,"color":"#b4b4b4","stroke":"#7c7c7c","strokeWidth":0.8,"opacity":1},
 "encoding":{"x":{"field":"i","type":"quantitative","title":null,"scale":{"domain":[-0.85,155.1],"nice":false,"zero":false}},"y":{"field":"v","type":"quantitative","title":null,"scale":{"domain":[0,121000],"nice":false,"zero":false}}}},
{"data":{"name":"vleg"},"mark":{"type":"text","align":"left","baseline":"middle","fontSize":12,"color":"#555555"},
 "encoding":{"x":{"field":"i","type":"quantitative","title":null,"scale":{"domain":[-0.85,155.1],"nice":false,"zero":false}},"y":{"field":"v","type":"quantitative","title":null,"scale":{"domain":[0,121000],"nice":false,"zero":false}},"text":{"field":"t"}}},
{"data":{"name":"vtag"},"mark":{"type":"rect","color":"#f01010"},
 "encoding":{"x":{"field":"i","type":"quantitative","title":null,"scale":{"domain":[-0.85,155.1],"nice":false,"zero":false}},"x2":{"field":"i2"},"y":{"field":"v","type":"quantitative","title":null,"scale":{"domain":[0,121000],"nice":false,"zero":false}},"y2":{"field":"v2"}}},
{"data":{"name":"vtxt"},"mark":{"type":"text","align":"left","baseline":"middle","fontSize":11},
 "encoding":{"x":{"field":"i","type":"quantitative","title":null,"scale":{"domain":[-0.85,155.1],"nice":false,"zero":false}},"y":{"field":"v","type":"quantitative","title":null,"scale":{"domain":[0,121000],"nice":false,"zero":false}},"text":{"field":"t"},
  "color":{"field":"k","type":"nominal","legend":null,"scale":{"domain":["w","r"],"range":["#ffffff","#e01010"]}}}}
]
},
{
"width":917,"height":41,
"resolve":{"scale":{"color":"independent"}},
"layer":[
{"data":{"name":"rsi"},"mark":{"type":"area","color":"#f9cba4","opacity":1},
 "encoding":{"x":{"field":"i","type":"quantitative","title":null,"scale":{"domain":[-0.85,155.1],"nice":false,"zero":false},
   "axis":{"orient":"bottom","values":[-0.85,11.56,32.65,54.76,72.6,93.9,115.8,155.1],"grid":true,"gridColor":"#c9c9c9","zindex":1,"ticks":true,"tickSize":21,"tickColor":"#a3adb8","domain":false,"labelAlign":"left","labelBaseline":"middle","labelPadding":-11,"labelDx":3,"labelFontSize":12,"labelColor":"#222222","labelFlush":false,"labelOverlap":false,"labelBound":false,
   "labelExpr":"datum.value < 0 ? '2026/02' : datum.value < 20 ? '03' : datum.value < 40 ? '04' : datum.value < 60 ? '05' : datum.value < 80 ? '06' : datum.value < 100 ? '07' : datum.value < 120 ? '08' : ''"}},
  "y":{"field":"r","type":"quantitative","title":null,"scale":{"domain":[32.4,106.9],"nice":false,"zero":false},"axis":{"orient":"right","values":[50],"grid":false,"tickSize":4,"tickColor":"#555555","labelColor":"#222222","labelFontSize":12,"labelPadding":1,"domain":false,"labelExpr":"replace(format(datum.value, '.2f'), '.', ',')"}},
  "y2":{"datum":70}}},
{"data":{"name":"hl"},"mark":{"type":"rect","color":"white"},
 "encoding":{"x":{"datum":-0.85},"x2":{"datum":155.1},"y":{"datum":70},"y2":{"datum":32.4}}},
{"data":{"name":"hl"},"mark":{"type":"rect","color":"#f5c5f1"},
 "encoding":{"x":{"field":"i","type":"quantitative","title":null,"scale":{"domain":[-0.85,155.1],"nice":false,"zero":false}},"x2":{"field":"i2"},"y":{"datum":106.9},"y2":{"datum":32.4}}},
{"data":{"name":"hl"},"mark":{"type":"rule","color":"#8c8c8c","strokeWidth":1},"encoding":{"x":{"datum":-0.85},"x2":{"datum":155.1},"y":{"datum":70}}},
{"data":{"name":"hl"},"mark":{"type":"rule","color":"#d0d0d0","strokeWidth":1},"encoding":{"x":{"datum":-0.85},"x2":{"datum":155.1},"y":{"datum":50}}},
{"data":{"name":"rsi"},"mark":{"type":"line","color":"#ef8a3c","strokeWidth":1.2},
 "encoding":{"x":{"field":"i","type":"quantitative","title":null,"scale":{"domain":[-0.85,155.1],"nice":false,"zero":false}},"y":{"field":"r","type":"quantitative","title":null,"scale":{"domain":[32.4,106.9],"nice":false,"zero":false}}}},
{"data":{"name":"rsq"},"mark":{"type":"point","shape":"square","filled":true,"size":26,"color":"#b4b4b4","stroke":"#7c7c7c","strokeWidth":0.8,"opacity":1},
 "encoding":{"x":{"field":"i","type":"quantitative","title":null,"scale":{"domain":[-0.85,155.1],"nice":false,"zero":false}},"y":{"field":"r","type":"quantitative","title":null,"scale":{"domain":[32.4,106.9],"nice":false,"zero":false}}}},
{"data":{"name":"rleg"},"mark":{"type":"text","align":"left","baseline":"middle","fontSize":12},
 "encoding":{"x":{"field":"i","type":"quantitative","title":null,"scale":{"domain":[-0.85,155.1],"nice":false,"zero":false}},"y":{"field":"r","type":"quantitative","title":null,"scale":{"domain":[32.4,106.9],"nice":false,"zero":false}},"text":{"field":"t"},
  "color":{"field":"k","type":"nominal","legend":null,"scale":{"domain":["o","d"],"range":["#f08030","#2a2a2a"]}}}}
]
}
]
}
